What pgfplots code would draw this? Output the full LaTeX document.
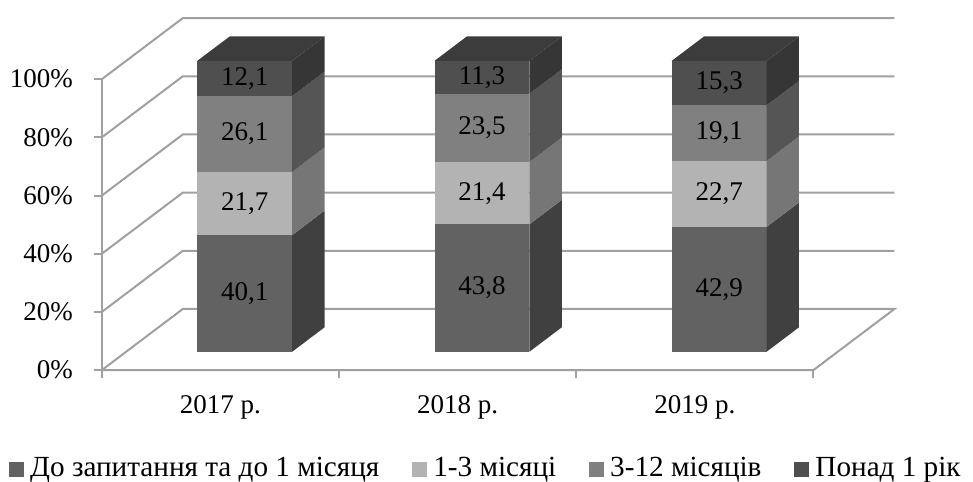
\documentclass[border=0pt]{standalone}
\usepackage{fontspec}
\setmainfont{Liberation Serif}
\usepackage{pgfplots}
\usepackage{pgfplotstable}
\pgfplotsset{compat=1.18}

% shares of deposits by term, per year
\pgfplotstableread{
cat s1 s2 s3 s4
0 40.1 21.7 26.1 12.1
1 43.8 21.4 23.5 11.3
2 42.9 22.7 19.1 15.3
}\shares

\definecolor{sAf}{HTML}{626262}\definecolor{sAs}{HTML}{404040}
\definecolor{sBf}{HTML}{B3B3B3}\definecolor{sBs}{HTML}{767676}
\definecolor{sCf}{HTML}{808080}\definecolor{sCs}{HTML}{555555}
\definecolor{sDf}{HTML}{4F4F4F}\definecolor{sDs}{HTML}{363636}
\definecolor{sDt}{HTML}{3C3C3C}
\definecolor{gridc}{HTML}{A0A0A0}

% oblique depth of a bar: 0.4 of the full depth (0.3413, 21)
\def\bdx{0.1365}
\def\bdy{8.4}
\def\bfront{6.3}

% one stacked segment: #1 category, #2 base, #3 value, #4 front colour, #5 side colour
\newcommand\barseg[5]{%
  \pgfmathsetmacro\xa{#1+0.4024}%
  \pgfmathsetmacro\xb{#1+0.8024}%
  \pgfmathsetmacro\xc{#1+0.8024+\bdx}%
  \pgfmathsetmacro\xd{#1+0.4024+\bdx}%
  \pgfmathsetmacro\ya{#2+\bfront}%
  \pgfmathsetmacro\yb{#2+#3+\bfront}%
  \pgfmathsetmacro\yc{#2+\bfront+\bdy}%
  \pgfmathsetmacro\yd{#2+#3+\bfront+\bdy}%
  \pgfmathsetmacro\xm{#1+0.6024}%
  \pgfmathsetmacro\ym{#2+#3/2+\bfront}%
  \edef\doit{%
    \noexpand\addplot[forget plot,fill=#4,draw=none] coordinates {(\xa,\ya) (\xb,\ya) (\xb,\yb) (\xa,\yb)} --cycle;
    \noexpand\addplot[forget plot,fill=#5,draw=none] coordinates {(\xb,\ya) (\xc,\yc) (\xc,\yd) (\xb,\yb)} --cycle;
    \noexpand\node[anchor=center,inner sep=0pt] at (axis cs:\xm,\ym) {\noexpand\pgfmathprintnumber[fixed,fixed zerofill,precision=1,use comma,assume math mode=true]{#3}};
  }%
  \doit
}
% lid of the stack: #1 category, #2 height
\newcommand\bartop[2]{%
  \pgfmathsetmacro\xa{#1+0.4024}%
  \pgfmathsetmacro\xb{#1+0.8024}%
  \pgfmathsetmacro\xc{#1+0.8024+\bdx}%
  \pgfmathsetmacro\xd{#1+0.4024+\bdx}%
  \pgfmathsetmacro\yb{#2+\bfront}%
  \pgfmathsetmacro\yd{#2+\bfront+\bdy}%
  \edef\doit{%
    \noexpand\addplot[forget plot,fill=sDt,draw=none] coordinates {(\xa,\yb) (\xb,\yb) (\xc,\yd) (\xd,\yd)} --cycle;
  }%
  \doit
}

\begin{document}
\begin{tikzpicture}[font=\fontsize{13.5}{16}\selectfont]
\begin{axis}[
  x=118.65pt, y=1.455pt,
  xmin=-0.4286, xmax=3.6717, ymin=-38.14, ymax=127.15,
  clip=false,
  axis line style={draw=none},
  major tick length=0pt,
  ytick={0,20,40,60,80,100},
  yticklabels={0\%,20\%,40\%,60\%,80\%,100\%},
  yticklabel style={anchor=east,inner sep=0pt,xshift=36.5pt},
  xtick={0.5,1.5,2.5},
  xticklabels={2017 р.,2018 р.,2019 р.},
  xticklabel style={anchor=base,inner sep=0pt,yshift=34pt},
  legend columns=4,
  legend style={draw=none,fill=none,inner sep=0pt,outer sep=0pt,
    font=\fontsize{14.6}{17}\selectfont,
    at={(axis cs:-0.3906,-33.7)},anchor=west,
    nodes={inner sep=0pt,anchor=base west},
    /tikz/every odd column/.append style={column sep=3pt},
    /tikz/every even column/.append style={column sep=16.5pt}},
  legend image code/.code={\fill[#1] (0pt,-0.3pt) rectangle (7.5pt,7pt);},
]
\path (rel axis cs:0,0) rectangle (rel axis cs:1,1);

\addlegendimage{fill=sAf,draw=none}\addlegendentry{До запитання та до 1 місяця}
\addlegendimage{fill=sBf,draw=none}\addlegendentry{1-3 місяці}
\addlegendimage{fill=sCf,draw=none}\addlegendentry{3-12 місяців}
\addlegendimage{fill=sDf,draw=none}\addlegendentry{Понад 1 рік}

% walls and floor
\addplot[forget plot,gridc,line width=1pt] coordinates {(0,0) (0.3413,21) (3.3413,21) (3,0) (0,0)};
\addplot[forget plot,gridc,line width=1pt] coordinates {(0,20) (0.3413,41) (3.3413,41)};
\addplot[forget plot,gridc,line width=1pt] coordinates {(0,40) (0.3413,61) (3.3413,61)};
\addplot[forget plot,gridc,line width=1pt] coordinates {(0,60) (0.3413,81) (3.3413,81)};
\addplot[forget plot,gridc,line width=1pt] coordinates {(0,80) (0.3413,101) (3.3413,101)};
\addplot[forget plot,gridc,line width=1pt] coordinates {(0,100) (0.3413,121) (3.3413,121)};
% value axis and ticks
\addplot[forget plot,gridc,line width=1pt] coordinates {(0,-2.75) (0,100)};
\addplot[forget plot,gridc,line width=1pt] coordinates {(-0.0337,0) (0,0)};
\addplot[forget plot,gridc,line width=1pt] coordinates {(-0.0337,20) (0,20)};
\addplot[forget plot,gridc,line width=1pt] coordinates {(-0.0337,40) (0,40)};
\addplot[forget plot,gridc,line width=1pt] coordinates {(-0.0337,60) (0,60)};
\addplot[forget plot,gridc,line width=1pt] coordinates {(-0.0337,80) (0,80)};
\addplot[forget plot,gridc,line width=1pt] coordinates {(-0.0337,100) (0,100)};
\addplot[forget plot,gridc,line width=1pt] coordinates {(1,0) (1,-2.75)};
\addplot[forget plot,gridc,line width=1pt] coordinates {(2,0) (2,-2.75)};
\addplot[forget plot,gridc,line width=1pt] coordinates {(3,0) (3,-2.75)};

% stacked 3-D columns
\pgfplotsforeachungrouped \i in {0,1,2}{%
  \pgfplotstablegetelem{\i}{s1}\of\shares \let\va\pgfplotsretval
  \pgfplotstablegetelem{\i}{s2}\of\shares \let\vb\pgfplotsretval
  \pgfplotstablegetelem{\i}{s3}\of\shares \let\vc\pgfplotsretval
  \pgfplotstablegetelem{\i}{s4}\of\shares \let\vd\pgfplotsretval
  \pgfmathsetmacro\ba{0}%
  \pgfmathsetmacro\bb{\va}%
  \pgfmathsetmacro\bc{\va+\vb}%
  \pgfmathsetmacro\bd{\va+\vb+\vc}%
  \pgfmathsetmacro\be{\va+\vb+\vc+\vd}%
  \barseg{\i}{\ba}{\va}{sAf}{sAs}%
  \barseg{\i}{\bb}{\vb}{sBf}{sBs}%
  \barseg{\i}{\bc}{\vc}{sCf}{sCs}%
  \barseg{\i}{\bd}{\vd}{sDf}{sDs}%
  \bartop{\i}{\be}%
}
\end{axis}
\end{tikzpicture}
\end{document}
